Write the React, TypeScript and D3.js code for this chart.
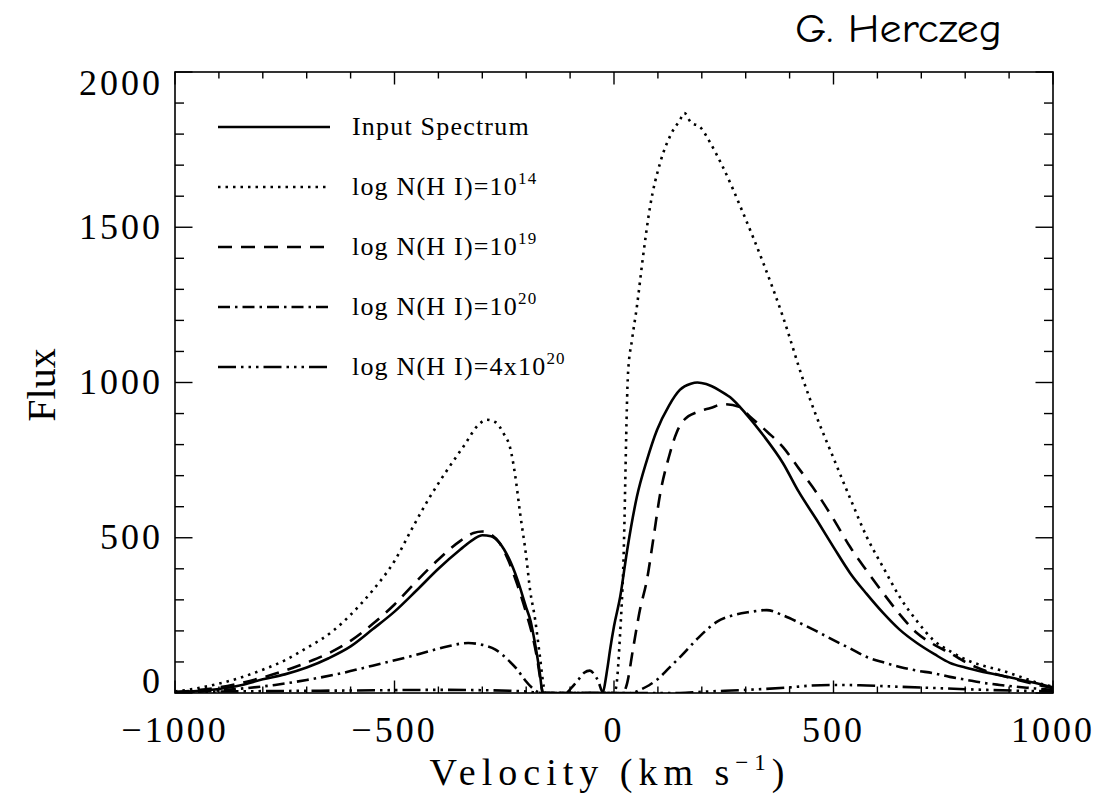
import React from 'react';
import * as d3 from 'd3';

type Pt = [number, number];

// velocity (km/s), flux
const inputSpectrum: Pt[] = [
  [-1000, 2], [-950, 6], [-900, 13], [-850, 25], [-800, 44], [-750, 60], [-700, 82], [-650, 112],
  [-600, 150], [-550, 205], [-500, 262], [-450, 330], [-400, 400], [-350, 462], [-320, 495],
  [-300, 508], [-280, 505], [-260, 482], [-240, 435], [-220, 365], [-200, 275], [-190, 232],
  [-180, 160], [-170, 75], [-162, 0], [-100, 0], [-27, 0], [-15, 80], [-9, 139], [0, 215],
  [14, 309], [30, 460], [52, 631], [75, 750], [98, 847], [125, 925], [150, 976], [175, 996],
  [190, 1000], [210, 995], [240, 975], [264, 953], [300, 900], [340, 830], [385, 740],
  [420, 650], [462, 557], [500, 470], [538, 386], [575, 320], [613, 258], [650, 205],
  [690, 161], [730, 125], [765, 97], [800, 82], [841, 68], [880, 57], [918, 45], [960, 32], [1000, 18],
];

const logN14: Pt[] = [
  [-1000, 5], [-950, 15], [-900, 30], [-850, 50], [-800, 75], [-750, 105], [-700, 145],
  [-640, 200], [-600, 252], [-550, 330], [-500, 425], [-458, 535], [-420, 630], [-380, 718],
  [-340, 800], [-310, 862], [-290, 880], [-270, 872], [-250, 832], [-237, 792], [-225, 700],
  [-214, 580], [-200, 440], [-191, 330], [-180, 240], [-169, 120], [-160, 20], [-157, 0],
  [-100, 0], [0, 0], [5, 20], [14, 193], [21, 400], [32, 1031], [41, 1137], [52, 1243],
  [66, 1404], [82, 1565], [105, 1707], [130, 1800], [150, 1845], [160, 1868], [175, 1838],
  [196, 1823], [220, 1770], [248, 1694], [294, 1546], [340, 1385], [385, 1211], [431, 1008],
  [460, 895], [499, 760], [540, 620], [576, 502], [615, 400], [651, 309], [690, 232],
  [727, 171], [765, 135], [804, 106], [840, 88], [879, 74], [920, 55], [960, 35], [1000, 20],
];

const logN19: Pt[] = [
  [-1000, 3], [-950, 9], [-900, 18], [-850, 32], [-800, 50], [-750, 72], [-700, 98], [-650, 128],
  [-600, 168], [-550, 222], [-500, 285], [-450, 360], [-400, 430], [-350, 490], [-320, 515],
  [-300, 520], [-280, 510], [-260, 482], [-240, 425], [-220, 348], [-200, 258], [-185, 180],
  [-175, 110], [-165, 20], [-162, 0], [-100, 0], [20, 0], [30, 32], [43, 139], [59, 267],
  [75, 364], [90, 500], [105, 640], [125, 760], [143, 840], [160, 880], [190, 905], [220, 918],
  [250, 930], [285, 922], [310, 890], [350, 840], [385, 792], [420, 725], [462, 644],
  [500, 560], [538, 470], [575, 395], [613, 322], [650, 255], [690, 193], [730, 155],
  [765, 129], [800, 100], [841, 74], [880, 57], [920, 42], [960, 28], [1000, 15],
];

const logN20: Pt[] = [
  [-1000, 2], [-900, 8], [-850, 14], [-772, 26], [-700, 42], [-620, 64], [-550, 88],
  [-469, 116], [-420, 135], [-380, 150], [-332, 161], [-300, 155], [-270, 140], [-241, 106],
  [-220, 75], [-203, 42], [-185, 15], [-165, 0], [-110, 0], [-95, 20], [-80, 45], [-68, 65],
  [-55, 72], [-45, 60], [-35, 35], [-28, 8], [-20, 0], [40, 0], [59, 10], [80, 25], [100, 45],
  [125, 80], [157, 125], [190, 175], [234, 229], [270, 250], [310, 261], [348, 267],
  [385, 250], [424, 225], [460, 200], [499, 171], [540, 142], [576, 116], [615, 98],
  [651, 84], [690, 72], [727, 64], [765, 52], [804, 42], [840, 33], [879, 26], [940, 17], [1000, 10],
];

const logN4x20: Pt[] = [
  [-1000, 3], [-800, 6], [-600, 8], [-400, 10], [-300, 9], [-200, 5], [-165, 0], [0, 0],
  [150, 0], [200, 4], [300, 10], [400, 18], [450, 24], [500, 26], [560, 25], [650, 20],
  [750, 15], [850, 10], [1000, 5],
];

const xMajorTicks = [-1000, -500, 0, 500, 1000];
const xTickLabels = ['\u22121000', '\u2212500', '0', '500', '1000'];
const yMajorTicks = [0, 500, 1000, 1500, 2000];
const yTickLabels = ['0', '500', '1000', '1500', '2000'];
const minorStep = 100;

const legendBase = ['Input Spectrum', 'log N(H I)=10', 'log N(H I)=10', 'log N(H I)=10', 'log N(H I)=4x10'];
const legendSup = ['', '14', '19', '20', '20'];

const seriesData = [inputSpectrum, logN14, logN19, logN20, logN4x20];
const seriesDash = ['none', '2.5,5', '14,9', '12,5,2.5,5', '18,5,2.5,5,2.5,5,2.5,5'];

const SERIF = '"Liberation Serif", "Times New Roman", serif';

export default function App() {
  const W = 1100, H = 796;
  const left = 175, right = 1053, top = 72, bottom = 693;
  const x = d3.scaleLinear().domain([-1000, 1000]).range([left, right]);
  const y = d3.scaleLinear().domain([0, 2000]).range([bottom, top]);
  const line = d3.line<Pt>().x(d => x(d[0])).y(d => y(d[1])).curve(d3.curveMonotoneX);

  const xMinor = d3.range(-1000, 1000 + 1, minorStep).filter(v => !xMajorTicks.includes(v));
  const yMinor = d3.range(0, 2000 + 1, minorStep).filter(v => !yMajorTicks.includes(v));

  const xMajLen = 12.5, xMinLen = 6.5, yMajLen = 17.5, yMinLen = 9;
  const capH = 23;

  return (
    <svg width={W} height={H} style={{ position: 'absolute', left: 0, top: 0, background: '#fff' }}
      xmlns="http://www.w3.org/2000/svg">
      <rect x={0} y={0} width={W} height={H} fill="#fff" />
      <text x={795} y={42} fontFamily='"Comic Sans MS", "Comic Neue", "Noto Sans", sans-serif'
        fontSize={40} textLength={207} lengthAdjust="spacingAndGlyphs" fill="#000">G. Herczeg</text>

      <defs>
        <clipPath id="plotclip">
          <rect x={left} y={top - 2} width={right - left} height={bottom - top + 2} />
        </clipPath>
      </defs>

      <g clipPath="url(#plotclip)">
        {seriesData.map((d, i) => (
          <path key={i} d={line(d) || ''} fill="none" stroke="#000" strokeWidth={2.6}
            strokeDasharray={seriesDash[i]} strokeLinejoin="round" />
        ))}
      </g>

      {/* frame */}
      <rect x={left} y={top} width={right - left} height={bottom - top} fill="none" stroke="#000" strokeWidth={1.6} />

      {/* x ticks bottom & top */}
      {xMajorTicks.map(v => (
        <g key={'xm' + v}>
          <line x1={x(v)} x2={x(v)} y1={bottom} y2={bottom - xMajLen} stroke="#000" strokeWidth={1.4} />
          <line x1={x(v)} x2={x(v)} y1={top} y2={top + xMajLen} stroke="#000" strokeWidth={1.4} />
        </g>
      ))}
      {xMinor.map(v => (
        <g key={'xn' + v}>
          <line x1={x(v)} x2={x(v)} y1={bottom} y2={bottom - xMinLen} stroke="#000" strokeWidth={1.4} />
          <line x1={x(v)} x2={x(v)} y1={top} y2={top + xMinLen} stroke="#000" strokeWidth={1.4} />
        </g>
      ))}
      {/* y ticks left & right */}
      {yMajorTicks.map(v => (
        <g key={'ym' + v}>
          <line x1={left} x2={left + yMajLen} y1={y(v)} y2={y(v)} stroke="#000" strokeWidth={1.4} />
          <line x1={right} x2={right - yMajLen} y1={y(v)} y2={y(v)} stroke="#000" strokeWidth={1.4} />
        </g>
      ))}
      {yMinor.map(v => (
        <g key={'yn' + v}>
          <line x1={left} x2={left + yMinLen} y1={y(v)} y2={y(v)} stroke="#000" strokeWidth={1.4} />
          <line x1={right} x2={right - yMinLen} y1={y(v)} y2={y(v)} stroke="#000" strokeWidth={1.4} />
        </g>
      ))}

      {/* tick labels */}
      {xMajorTicks.map((v, i) => (
        <text key={'xl' + v} x={x(v)} y={742} textAnchor="middle" fontFamily={SERIF}
          fontSize={36} letterSpacing={3} fill="#000">{xTickLabels[i]}</text>
      ))}
      {yMajorTicks.map((v, i) => {
        const base = Math.min(bottom, Math.max(top + capH, y(v) + capH / 2));
        return (
          <text key={'yl' + v} x={163} y={base} textAnchor="end" fontFamily={SERIF}
            fontSize={36} letterSpacing={3} fill="#000">{yTickLabels[i]}</text>
        );
      })}

      {/* axis titles */}
      <text x={610} y={785} textAnchor="middle" fontFamily={SERIF} fontSize={38} letterSpacing={6} fill="#000">
        Velocity (km s<tspan fontSize={23} dy={-15}>{'\u22121'}</tspan><tspan dy={15}>)</tspan>
      </text>
      <text transform="translate(55,385) rotate(-90)" textAnchor="middle" fontFamily={SERIF}
        fontSize={40} letterSpacing={0} fill="#000">Flux</text>

      {/* legend */}
      {legendBase.map((t, i) => {
        const ly = 127 + i * 60;
        return (
          <g key={'lg' + i}>
            <line x1={218} x2={330} y1={ly} y2={ly} stroke="#000" strokeWidth={2.4} strokeDasharray={seriesDash[i]} />
            <text x={352} y={ly + 8} fontFamily={SERIF} fontSize={26} letterSpacing={1.2} fill="#000">
              {t}{legendSup[i] ? <tspan fontSize={17} dy={-11}>{legendSup[i]}</tspan> : null}
            </text>
          </g>
        );
      })}
    </svg>
  );
}
